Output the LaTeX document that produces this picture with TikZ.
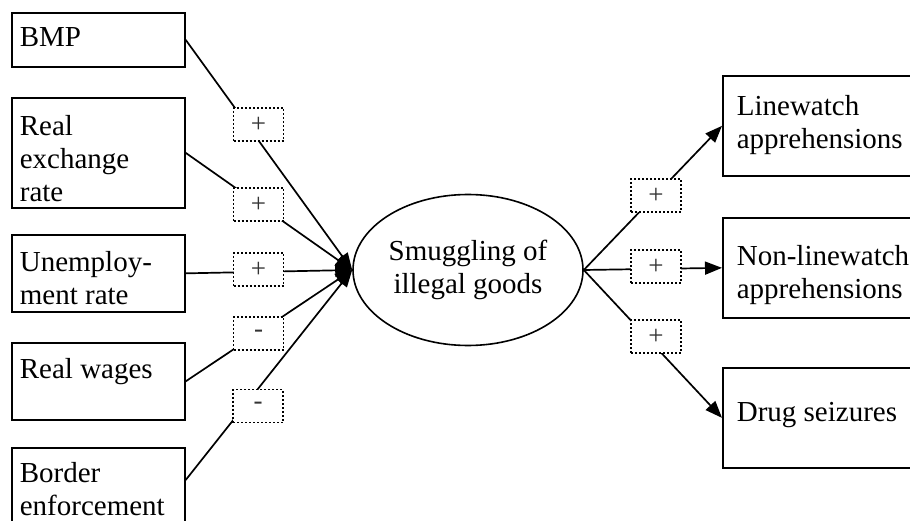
\documentclass[tikz,border=0pt]{standalone}
\usepackage{fontspec}
\setmainfont{Liberation Serif}
\usetikzlibrary{arrows.meta,shapes.geometric}

\tikzset{
  factor/.style={draw, rectangle, anchor=north west, inner sep=0pt, line width=1.7pt},
  focus/.style={draw, ellipse, minimum width=230pt, minimum height=151pt,
    inner sep=0pt, line width=1.6pt, align=center},
  sign/.style={draw, fill=white, dash pattern=on 2pt off 2pt, line width=1.8pt,
    minimum width=50pt, minimum height=33pt, inner sep=0pt, text=black!80,
    font=\fontsize{27}{30}\selectfont},
  link/.style={line width=1.7pt, -{Triangle[length=17pt,width=13pt]}},
}
% width, height, top gap, left gap, text
\newcommand{\boxtext}[5]{\parbox[c][#2][t]{#1}{\raggedright\leftskip=#4\relax\vspace*{#3}#5}}

\begin{document}
\begin{tikzpicture}[x=1pt,y=-1pt,font=\fontsize{29}{33}\selectfont]
  \useasboundingbox (0,0) rectangle (910,521);
  \clip (0,0) rectangle (910,521);

  % causes
  \node[factor] (bmp)    at (11,12)  {\boxtext{173pt}{54pt}{15pt}{8pt}{BMP}};
  \node[factor] (rer)    at (11,97)  {\boxtext{173pt}{110pt}{18pt}{8pt}{Real\\exchange\\rate}};
  \node[factor] (unemp)  at (11,234) {\boxtext{173pt}{77pt}{17pt}{8pt}{Unemploy-\\ment rate}};
  \node[factor] (wages)  at (11,342) {\boxtext{173pt}{77pt}{16pt}{8pt}{Real wages}};
  \node[factor] (border) at (11,447) {\boxtext{173pt}{100pt}{15pt}{8pt}{Border\\enforcement}};

  \node[focus] (smuggling) at (468,270) {Smuggling of\\illegal goods};

  % indicators
  \node[factor] (linewatch) at (722,75)  {\boxtext{218pt}{100pt}{20pt}{14pt}{Linewatch\\apprehensions}};
  \node[factor] (nonline)   at (722,217) {\boxtext{218pt}{100pt}{28pt}{14pt}{Non-linewatch\\apprehensions}};
  \node[factor] (drugs)     at (722,367) {\boxtext{218pt}{100pt}{34pt}{14pt}{Drug seizures}};

  \draw[link] (bmp.east) -- (smuggling.west);
  \draw[link] (rer.east) -- (smuggling.west);
  \draw[link] (unemp.east) -- (smuggling.west);
  \draw[link] (wages.east) -- (smuggling.west);
  \draw[link] ([yshift=-33pt]border.north east) -- (smuggling.west);
  \draw[link] (smuggling.east) -- (linewatch.west);
  \draw[link] (smuggling.east) -- (nonline.west);
  \draw[link] (smuggling.east) -- (drugs.west);

  % signs sit on top of the links
  \node[sign] (s1) at (258.5,124.5) {+};
  \node[sign] (s2) at (258.5,204.5) {+};
  \node[sign] (s3) at (258.5,269.5) {+};
  \node[sign] (s4) at (258.5,333.5) {-};
  \node[sign] (s5) at (258,406)     {-};
  \node[sign] (r1) at (656,195.5)   {+};
  \node[sign] (r2) at (656,266.5)   {+};
  \node[sign] (r3) at (656,336.5)   {+};
\end{tikzpicture}
\end{document}
